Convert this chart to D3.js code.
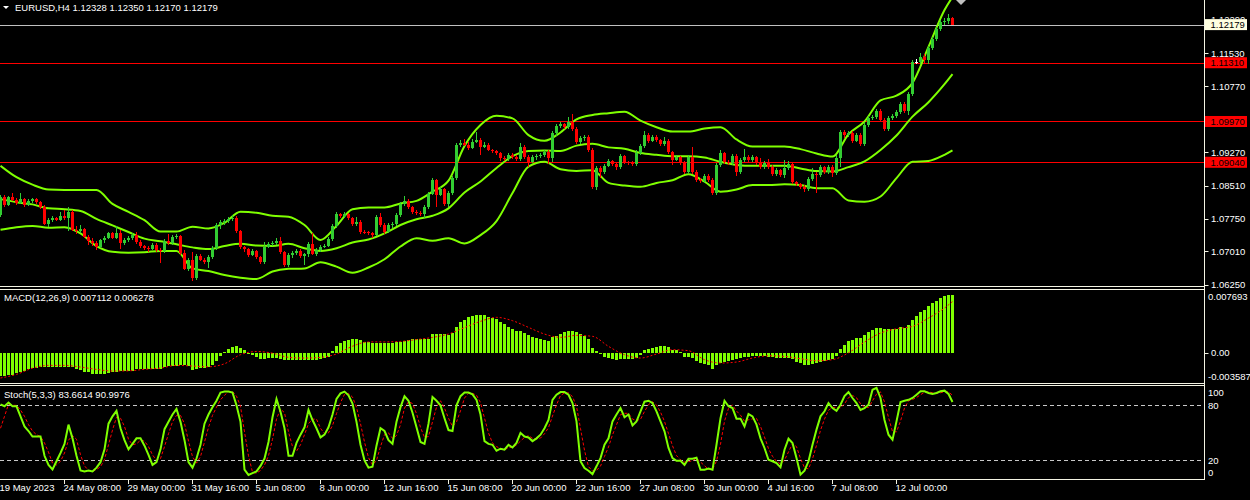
<!DOCTYPE html>
<html>
<head>
<meta charset="utf-8">
<script src="https://cdn.jsdelivr.net/npm/d3@7"></script>
<style>
body { margin: 0; background: #000; }
svg { display: block; }
text { font-family: "Liberation Sans", Arial, sans-serif; font-size: 9.5px; fill: #fff; }
</style>
</head>
<body>
<svg id="chart" width="1250" height="500"></svg>
<script>
// EURUSD H4, one value per bar (bar 0 = 19 May 2023 16:00)
var firstOpen = 1.0784;
var closes = [
 1.0825,1.0807,1.0825,1.0818,1.0811,1.0820,1.0807,1.0816,1.0820,1.0813,
 1.0803,1.0763,1.0772,1.0777,1.0772,1.0781,1.0777,1.0791,1.0750,1.0747,
 1.0752,1.0734,1.0725,1.0720,1.0711,1.0727,1.0731,1.0743,1.0731,1.0743,
 1.0720,1.0727,1.0731,1.0738,1.0722,1.0712,1.0709,1.0706,1.0715,1.0704,
 1.0702,1.0725,1.0720,1.0734,1.0736,1.0697,1.0661,1.0681,1.0640,1.0690,
 1.0681,1.0677,1.0688,1.0709,1.0761,1.0768,1.0770,1.0775,1.0777,1.0747,
 1.0711,1.0706,1.0693,1.0702,1.0688,1.0677,1.0711,1.0718,1.0720,1.0725,
 1.0699,1.0670,1.0693,1.0697,1.0702,1.0690,1.0695,1.0718,1.0695,1.0704,
 1.0711,1.0713,1.0729,1.0759,1.0786,1.0781,1.0786,1.0777,1.0763,1.0768,
 1.0745,1.0744,1.0743,1.0738,1.0779,1.0761,1.0745,1.0761,1.0763,1.0784,
 1.0809,1.0816,1.0802,1.0791,1.0788,1.0786,1.0802,1.0832,1.0864,1.0830,
 1.0843,1.0809,1.0834,1.0868,1.0943,1.0948,1.0943,1.0937,1.0950,1.0955,
 1.0939,1.0943,1.0932,1.0930,1.0925,1.0914,1.0911,1.0921,1.0916,1.0911,
 1.0939,1.0916,1.0905,1.0916,1.0918,1.0921,1.0927,1.0914,1.0971,1.0987,
 1.0991,1.0984,1.0996,1.0980,1.0950,1.0959,1.0962,1.0932,1.0848,1.0891,
 1.0882,1.0896,1.0907,1.0900,1.0893,1.0918,1.0905,1.0902,1.0900,1.0925,
 1.0941,1.0966,1.0953,1.0962,1.0955,1.0946,1.0953,1.0927,1.0909,1.0916,
 1.0902,1.0882,1.0916,1.0882,1.0864,1.0861,1.0873,1.0864,1.0834,1.0898,
 1.0925,1.0905,1.0902,1.0918,1.0882,1.0909,1.0916,1.0909,1.0916,1.0902,
 1.0893,1.0902,1.0893,1.0877,1.0886,1.0875,1.0891,1.0900,1.0859,1.0854,
 1.0848,1.0843,1.0866,1.0877,1.0875,1.0893,1.0882,1.0893,1.0880,1.0914,
 1.0973,1.0966,1.0971,1.0953,1.0966,1.0946,1.0989,1.1005,1.1007,1.1021,
 1.1000,1.0980,1.1005,1.1010,1.1019,1.1037,1.1021,1.1060,1.1133,1.1133,
 1.1144,1.1137,1.1165,1.1185,1.1208,1.1223,1.1226,1.12328,1.12179
];
var highs = [
 1.0830,1.0829,1.0828,1.0833,1.0822,1.0834,1.0823,1.0820,1.0823,1.0822,
 1.0816,1.0806,1.0776,1.0781,1.0780,1.0790,1.0795,1.0803,1.0795,1.0758,
 1.0760,1.0755,1.0738,1.0732,1.0725,1.0730,1.0735,1.0746,1.0745,1.0759,
 1.0750,1.0731,1.0736,1.0743,1.0745,1.0726,1.0716,1.0712,1.0719,1.0720,
 1.0708,1.0729,1.0740,1.0738,1.0740,1.0739,1.0703,1.0686,1.0700,1.0694,
 1.0695,1.0686,1.0692,1.0713,1.0765,1.0773,1.0775,1.0779,1.0784,1.0781,
 1.0750,1.0714,1.0709,1.0706,1.0705,1.0691,1.0722,1.0722,1.0724,1.0731,
 1.0734,1.0702,1.0697,1.0702,1.0706,1.0706,1.0698,1.0722,1.0743,1.0708,
 1.0716,1.0717,1.0733,1.0764,1.0790,1.0789,1.0790,1.0789,1.0780,1.0780,
 1.0772,1.0750,1.0748,1.0746,1.0784,1.0788,1.0765,1.0766,1.0768,1.0788,
 1.0813,1.0828,1.0820,1.0805,1.0795,1.0792,1.0806,1.0836,1.0868,1.0867,
 1.0848,1.0846,1.0838,1.0872,1.0948,1.0955,1.0958,1.0950,1.0958,1.0974,
 1.0960,1.0950,1.0947,1.0935,1.0933,1.0928,1.0918,1.0925,1.0925,1.0920,
 1.0948,1.0943,1.0920,1.0920,1.0922,1.0925,1.0933,1.0932,1.0976,1.0992,
 1.0996,1.0994,1.1008,1.1013,1.0984,1.0964,1.0966,1.0966,1.0936,1.0896,
 1.0895,1.0900,1.0912,1.0910,1.0904,1.0923,1.0921,1.0908,1.0906,1.0932,
 1.0946,1.0975,1.0970,1.0966,1.0966,1.0958,1.0961,1.0956,1.0930,1.0920,
 1.0919,1.0906,1.0921,1.0939,1.0886,1.0868,1.0878,1.0878,1.0868,1.0902,
 1.0932,1.0928,1.0910,1.0922,1.0922,1.0913,1.0935,1.0920,1.0920,1.0919,
 1.0914,1.0906,1.0912,1.0897,1.0890,1.0889,1.0909,1.0906,1.0904,1.0862,
 1.0857,1.0852,1.0870,1.0891,1.0882,1.0898,1.0896,1.0897,1.0897,1.0920,
 1.0977,1.0977,1.0975,1.0975,1.0970,1.0970,1.0994,1.1010,1.1012,1.1026,
 1.1025,1.1004,1.1009,1.1014,1.1023,1.1041,1.1041,1.1065,1.1137,1.1140,
 1.1153,1.1150,1.1169,1.1190,1.1212,1.1228,1.1233,1.1243,1.12350
];
var lows = [
 1.0780,1.0803,1.0804,1.0815,1.0806,1.0808,1.0802,1.0804,1.0812,1.0810,
 1.0798,1.0760,1.0757,1.0768,1.0769,1.0770,1.0772,1.0748,1.0747,1.0740,
 1.0742,1.0731,1.0716,1.0712,1.0703,1.0708,1.0720,1.0728,1.0728,1.0729,
 1.0706,1.0716,1.0722,1.0727,1.0718,1.0708,1.0703,1.0700,1.0703,1.0700,
 1.0674,1.0698,1.0716,1.0716,1.0730,1.0693,1.0658,1.0655,1.0634,1.0636,
 1.0678,1.0673,1.0663,1.0684,1.0705,1.0752,1.0762,1.0766,1.0770,1.0742,
 1.0706,1.0700,1.0688,1.0690,1.0684,1.0672,1.0673,1.0708,1.0713,1.0716,
 1.0695,1.0666,1.0666,1.0686,1.0693,1.0686,1.0670,1.0688,1.0692,1.0690,
 1.0700,1.0708,1.0710,1.0725,1.0755,1.0776,1.0778,1.0773,1.0759,1.0758,
 1.0741,1.0740,1.0739,1.0732,1.0735,1.0757,1.0740,1.0742,1.0755,1.0759,
 1.0780,1.0805,1.0798,1.0787,1.0784,1.0782,1.0777,1.0798,1.0829,1.0802,
 1.0826,1.0805,1.0803,1.0830,1.0864,1.0938,1.0940,1.0933,1.0934,1.0947,
 1.0920,1.0936,1.0929,1.0926,1.0920,1.0908,1.0906,1.0907,1.0911,1.0906,
 1.0908,1.0911,1.0893,1.0902,1.0910,1.0914,1.0916,1.0900,1.0905,1.0965,
 1.0982,1.0980,1.0980,1.0976,1.0945,1.0946,1.0952,1.0928,1.0843,1.0840,
 1.0868,1.0878,1.0893,1.0896,1.0887,1.0889,1.0901,1.0897,1.0896,1.0896,
 1.0921,1.0937,1.0948,1.0950,1.0951,1.0942,1.0940,1.0923,1.0898,1.0906,
 1.0897,1.0878,1.0878,1.0877,1.0858,1.0856,1.0857,1.0860,1.0830,1.0830,
 1.0893,1.0900,1.0897,1.0898,1.0873,1.0878,1.0905,1.0905,1.0905,1.0898,
 1.0889,1.0889,1.0889,1.0872,1.0872,1.0870,1.0868,1.0886,1.0855,1.0850,
 1.0843,1.0836,1.0838,1.0861,1.0833,1.0870,1.0878,1.0878,1.0870,1.0876,
 1.0894,1.0960,1.0962,1.0949,1.0950,1.0942,1.0942,1.0985,1.1000,1.1003,
 1.0996,1.0976,1.0976,1.1001,1.1006,1.1015,1.1017,1.1012,1.1056,1.1127,
 1.1129,1.1130,1.1128,1.1160,1.1180,1.1203,1.1218,1.1220,1.12170
];

// indicator lines read every 4th bar
var sampleBars = [
 0,4,8,12,16,20,24,28,32,36,40,44,48,52,56,60,64,68,72,76,
 80,84,88,92,96,100,104,108,112,116,120,124,128,132,136,140,144,148,152,156,
 160,164,168,172,176,180,184,188,192,196,200,204,208,212,216,220,224,228,232,236,238
];
var bandUpper = [
 1.0896,1.0870,1.0853,1.0842,1.0841,1.0841,1.0841,1.0809,1.0791,1.0772,
 1.0746,1.0746,1.0757,1.0753,1.0766,1.0791,1.0789,1.0782,1.0780,1.0761,
 1.0727,1.0759,1.0797,1.0801,1.0801,1.0810,1.0816,1.0837,1.0862,1.0941,
 1.0989,1.1010,1.1004,1.0966,1.0953,1.0972,1.1002,1.1012,1.1016,1.1019,
 1.0999,1.0984,1.0974,1.0974,1.0981,1.0984,1.0956,1.0940,1.0940,1.0940,
 1.0934,1.0924,1.0917,1.0968,1.0997,1.1045,1.1056,1.1085,1.1167,1.1251,
 1.1281
];
var bandMiddle = [
 1.0820,1.0813,1.0808,1.0799,1.0797,1.0793,1.0775,1.0760,1.0745,1.0730,
 1.0724,1.0717,1.0710,1.0706,1.0713,1.0718,1.0714,1.0713,1.0718,1.0708,
 1.0702,1.0708,1.0721,1.0728,1.0742,1.0761,1.0774,1.0782,1.0799,1.0835,
 1.0860,1.0891,1.0918,1.0930,1.0931,1.0930,1.0942,1.0946,1.0938,1.0935,
 1.0925,1.0921,1.0918,1.0918,1.0915,1.0905,1.0898,1.0896,1.0896,1.0896,
 1.0890,1.0884,1.0883,1.0893,1.0906,1.0932,1.0965,1.1008,1.1041,1.1082,
 1.1105
];
var bandLower = [
 1.0750,1.0756,1.0759,1.0755,1.0756,1.0742,1.0713,1.0700,1.0698,1.0699,
 1.0702,1.0702,1.0662,1.0656,1.0647,1.0641,1.0638,1.0655,1.0661,1.0662,
 1.0676,1.0666,1.0652,1.0664,1.0683,1.0712,1.0731,1.0725,1.0731,1.0719,
 1.0738,1.0770,1.0834,1.0894,1.0905,1.0888,1.0884,1.0886,1.0857,1.0851,
 1.0848,1.0857,1.0863,1.0877,1.0860,1.0837,1.0842,1.0852,1.0852,1.0854,
 1.0852,1.0845,1.0845,1.0817,1.0814,1.0826,1.0868,1.0905,1.0907,1.0921,
 1.0931
];
var macdSignal = [
 -0.00310,-0.00265,-0.00190,-0.00155,-0.00155,-0.00175,-0.00204,-0.00224,-0.00222,-0.00203,
 -0.00188,-0.00155,-0.00163,-0.00172,-0.00135,-0.00024,0.00015,-0.00005,-0.00056,-0.00065,
 -0.00057,-0.00015,0.00080,0.00133,0.00133,0.00139,0.00162,0.00188,0.00230,0.00308,
 0.00385,0.00434,0.00393,0.00311,0.00229,0.00189,0.00213,0.00201,0.00078,-0.00024,
 -0.00065,-0.00016,0.00037,0.00025,-0.00085,-0.00126,-0.00114,-0.00065,-0.00037,-0.00045,
 -0.00073,-0.00098,-0.00085,0.00000,0.00131,0.00241,0.00294,0.00323,0.00425,0.00548,
 0.00628
];

// per bar
var macdHist = [
 -0.00285,-0.00283,-0.00278,-0.00270,-0.00245,-0.00230,-0.00220,-0.00200,-0.00190,-0.00185,
 -0.00178,-0.00175,-0.00175,-0.00175,-0.00172,-0.00175,-0.00172,-0.00170,-0.00180,-0.00200,
 -0.00210,-0.00230,-0.00240,-0.00255,-0.00262,-0.00265,-0.00260,-0.00250,-0.00240,-0.00235,
 -0.00228,-0.00222,-0.00220,-0.00218,-0.00205,-0.00200,-0.00198,-0.00196,-0.00195,-0.00196,
 -0.00195,-0.00170,-0.00165,-0.00160,-0.00160,-0.00150,-0.00148,-0.00160,-0.00210,-0.00205,
 -0.00190,-0.00185,-0.00180,-0.00150,-0.00100,-0.00045,0.00010,0.00050,0.00070,0.00078,
 0.00055,0.00030,0.00002,-0.00025,-0.00053,-0.00073,-0.00073,-0.00068,-0.00070,-0.00068,
 -0.00072,-0.00085,-0.00088,-0.00085,-0.00090,-0.00089,-0.00088,-0.00085,-0.00086,-0.00084,
 -0.00080,-0.00070,-0.00055,0.00025,0.00078,0.00119,0.00150,0.00162,0.00165,0.00165,
 0.00160,0.00135,0.00128,0.00125,0.00125,0.00125,0.00125,0.00122,0.00115,0.00131,
 0.00133,0.00150,0.00160,0.00165,0.00168,0.00168,0.00165,0.00170,0.00225,0.00233,
 0.00233,0.00230,0.00215,0.00237,0.00315,0.00373,0.00405,0.00434,0.00454,0.00466,
 0.00466,0.00460,0.00434,0.00421,0.00409,0.00376,0.00352,0.00311,0.00294,0.00270,
 0.00270,0.00241,0.00213,0.00189,0.00181,0.00168,0.00160,0.00147,0.00189,0.00201,
 0.00229,0.00254,0.00270,0.00270,0.00250,0.00225,0.00205,0.00164,0.00058,0.00020,
 -0.00008,-0.00057,-0.00065,-0.00077,-0.00085,-0.00073,-0.00077,-0.00073,-0.00073,-0.00065,
 -0.00033,0.00029,0.00049,0.00060,0.00070,0.00078,0.00078,0.00066,0.00037,0.00033,
 0.00010,-0.00053,-0.00053,-0.00065,-0.00106,-0.00126,-0.00139,-0.00155,-0.00196,-0.00155,
 -0.00126,-0.00114,-0.00098,-0.00085,-0.00073,-0.00069,-0.00057,-0.00049,-0.00037,-0.00037,
 -0.00041,-0.00041,-0.00049,-0.00057,-0.00061,-0.00061,-0.00069,-0.00069,-0.00082,-0.00114,
 -0.00126,-0.00147,-0.00147,-0.00139,-0.00126,-0.00114,-0.00098,-0.00085,-0.00077,-0.00037,
 0.00049,0.00098,0.00139,0.00160,0.00181,0.00181,0.00221,0.00250,0.00274,0.00303,
 0.00303,0.00290,0.00290,0.00290,0.00294,0.00311,0.00303,0.00344,0.00405,0.00454,
 0.00495,0.00527,0.00569,0.00609,0.00638,0.00671,0.00699,0.00711,0.00711
];
var stochMain = [
 81,79,83,79,79,68,57,52,46,46,
 46,25,15,10,19,28,38,59,44,25,
 9,8,9,8,12,18,32,60,68,74,
 55,42,32,38,44,44,36,26,15,18,
 32,54,62,70,76,62,42,18,12,22,
 37,60,70,78,85,94,95,95,94,80,
 62,10,4,6,8,14,22,40,67,87,
 73,55,25,25,39,48,56,75,64,55,
 45,48,56,70,87,93,95,91,82,62,
 37,20,12,13,36,55,52,42,38,62,
 78,90,85,72,56,40,38,60,89,85,
 80,66,53,52,80,90,94,94,92,86,
 70,41,38,37,30.5,32.7,31.6,37,34,39,
 50,46,45,41,44,48,55,64,86,91.6,
 94.5,94.5,91.6,82.5,62.5,19,11.6,8.7,5,13.5,
 22.5,37,44,62.5,70,77,67,70,58,62.5,
 73.5,84,85,82.5,73.5,62.5,51.6,33.5,22.5,19.6,
 19.6,15,21.8,21.8,23,9.8,9.8,11,9.8,37,
 66,85,79,77,65.5,65.5,57,70.5,68,59,
 44,33.5,20.7,19,17,12.4,31.6,43.6,39,22.5,
 4.4,8.7,19,37,53.5,68,73.5,82.5,77,74,
 80.7,90,94.5,88,82.5,75,77,80.7,97,99,
 88,64,48,42.5,62.5,83.6,85,86,88,91.6,
 95.3,95.3,93.5,92.4,93.5,95.3,96,92.4,83.66
];
var stochSignal = [
 55,68,81,80,80,75,68,59,52,48,
 46,39,29,17,15,19,28,42,47,43,
 26,14,9,8,10,13,21,37,53,67,
 66,57,43,37,38,42,41,35,26,20,
 22,35,49,62,69,69,60,41,24,17,
 24,40,56,69,78,86,91,95,95,90,
 79,51,25,7,6,9,15,25,43,65,
 76,72,51,35,30,37,48,60,65,65,
 55,49,50,58,71,83,92,93,89,78,
 60,40,23,15,20,35,48,50,44,47,
 59,77,84,82,71,56,45,46,62,78,
 85,77,66,57,62,74,88,93,93,91,
 83,66,50,39,35,33,31.6,33.8,34.2,36.7,
 41,45,47,44,43.3,44.3,49,55.7,68.3,80.5,
 90.7,93.5,93.5,89.5,78.9,54.7,31,13.1,8.4,9.1,
 13.7,24.3,34.5,47.8,58.8,69.8,71.3,71.3,65,63.5,
 64.7,73.3,80.8,83.8,80.3,72.8,62.5,49.2,35.9,25.2,
 20.6,18.1,18.8,19.5,22.2,18.2,14.2,10.2,10.2,19.3,
 37.6,62.7,76.7,80.3,73.8,69.3,62.7,64.3,65.2,65.8,
 57,45.5,32.7,24.4,18.9,16.1,20.3,29.2,38.1,35,
 22,11.9,10.7,21.6,36.5,52.8,65,74.7,77.7,77.8,
 77.2,81.6,88.4,90.8,88.3,81.8,78.2,77.6,84.9,92.2,
 94.7,83.7,66.7,51.5,51,62.9,77,84.9,86.3,88.5,
 91.6,94.1,94.7,93.7,93.1,93.7,94.9,94.6,91.0
];

var priceTicks = [1.12290, 1.11530, 1.10770, 1.09270, 1.08510, 1.07750, 1.07010, 1.06250];
var levelLines = [1.11310, 1.09970, 1.09040];
var lastPrice = 1.12179;
var macdRange = [-0.003587, 0.007693];
var stochLevels = [80, 20];
var timeTickBars = [0,16,32,48,64,80,96,112,128,144,160,176,192,208,224];
var timeTickLabels = ["19 May 2023","24 May 08:00","29 May 00:00","31 May 16:00","5 Jun 08:00",
  "8 Jun 00:00","12 Jun 16:00","15 Jun 08:00","20 Jun 00:00","22 Jun 16:00",
  "27 Jun 08:00","30 Jun 00:00","4 Jul 16:00","7 Jul 08:00","12 Jul 00:00"];

var W = 1250, H = 500, plotR = 1204;
var lime = "#7fff00", bull = "#32cd32", bear = "#ff0000", frame = "#f4f4e4";

var svg = d3.select("#chart");
svg.append("rect").attr("width", W).attr("height", H).attr("fill", "#000");

var x = d3.scaleLinear().domain([0, 1]).range([0.5, 4.5]);
var y = d3.scaleLinear().domain([1.0625, 1.1229]).range([284.65, 19.74]);
var yM = d3.scaleLinear().domain(macdRange).range([382, 290]);
var yS = d3.scaleLinear().domain([0, 100]).range([478.7, 387]);

var defs = svg.append("defs");
function clip(id, top, h) {
  defs.append("clipPath").attr("id", id).append("rect")
    .attr("x", 0).attr("y", top).attr("width", plotR).attr("height", h);
}
clip("cMain", 0, 286);
clip("cMacd", 289.5, 93);
clip("cStoch", 386, 93);

// ---------- main window ----------
var main = svg.append("g").attr("clip-path", "url(#cMain)");

main.selectAll(".lvl").data(levelLines).enter().append("line")
  .attr("x1", 0).attr("x2", plotR)
  .attr("y1", function(d) { return Math.round(y(d)) + 0.5; })
  .attr("y2", function(d) { return Math.round(y(d)) + 0.5; })
  .attr("stroke", "#ff0000").attr("stroke-width", 1);

main.append("line")
  .attr("x1", 0).attr("x2", plotR)
  .attr("y1", Math.round(y(lastPrice)) + 0.5).attr("y2", Math.round(y(lastPrice)) + 0.5)
  .attr("stroke", "#c0c0c0").attr("stroke-width", 1);

var bandLine = function(vals) {
  return d3.line()
    .x(function(d, i) { return x(sampleBars[i]); })
    .y(function(d) { return y(d); })
    .curve(d3.curveMonotoneX)(vals);
};
[bandUpper, bandMiddle, bandLower].forEach(function(b) {
  main.append("path").attr("d", bandLine(b))
    .attr("fill", "none").attr("stroke", lime).attr("stroke-width", 2);
});

var candles = closes.map(function(c, i) {
  return { i: i, o: i === 0 ? firstOpen : closes[i - 1], h: highs[i], l: lows[i], c: c };
});
function candleColor(d) { return d.c > d.o ? bull : (d.c < d.o ? bear : "#ffffff"); }

var cg = main.selectAll(".candle").data(candles).enter().append("g").attr("shape-rendering", "crispEdges");
cg.append("line")
  .attr("x1", function(d) { return x(d.i); }).attr("x2", function(d) { return x(d.i); })
  .attr("y1", function(d) { return y(d.h); }).attr("y2", function(d) { return y(d.l); })
  .attr("stroke", candleColor).attr("stroke-width", 1);
cg.append("rect")
  .attr("x", function(d) { return x(d.i) - 1.5; })
  .attr("width", 3)
  .attr("y", function(d) { return y(Math.max(d.o, d.c)); })
  .attr("height", function(d) { return Math.max(1, Math.abs(y(d.o) - y(d.c))); })
  .attr("fill", candleColor);

// ---------- MACD window ----------
var macd = svg.append("g").attr("clip-path", "url(#cMacd)");
macd.selectAll("rect").data(macdHist).enter().append("rect")
  .attr("shape-rendering", "crispEdges")
  .attr("x", function(d, i) { return x(i) - 1.5; })
  .attr("width", 3)
  .attr("y", function(d) { return yM(Math.max(d, 0)); })
  .attr("height", function(d) { return Math.max(1, Math.abs(yM(d) - yM(0))); })
  .attr("fill", lime);
macd.append("path")
  .attr("d", d3.line().x(function(d, i) { return x(sampleBars[i]); }).y(function(d) { return yM(d); })
    .curve(d3.curveMonotoneX)(macdSignal))
  .attr("fill", "none").attr("stroke", "#ff0000").attr("stroke-width", 1).attr("stroke-dasharray", "2,2");

// ---------- Stochastic window ----------
var sto = svg.append("g").attr("clip-path", "url(#cStoch)");
sto.selectAll(".slvl").data(stochLevels).enter().append("line")
  .attr("x1", 0).attr("x2", plotR)
  .attr("y1", function(d) { return Math.round(yS(d)) + 0.5; })
  .attr("y2", function(d) { return Math.round(yS(d)) + 0.5; })
  .attr("stroke", "#c8c8c8").attr("stroke-dasharray", "4,3");
var stoLine = d3.line().x(function(d, i) { return x(i); }).y(function(d) { return yS(d); });
sto.append("path").attr("d", stoLine(stochSignal))
  .attr("fill", "none").attr("stroke", "#ff0000").attr("stroke-width", 1).attr("stroke-dasharray", "3,2");
sto.append("path").attr("d", stoLine(stochMain))
  .attr("fill", "none").attr("stroke", lime).attr("stroke-width", 2);

// ---------- frames ----------
var fr = svg.append("g").attr("stroke", frame).attr("stroke-width", 1).attr("shape-rendering", "crispEdges");
[286.5, 289.5, 383.5, 385.5, 479.5].forEach(function(yy) {
  fr.append("line").attr("x1", 0).attr("x2", plotR + 0.5).attr("y1", yy).attr("y2", yy);
});
fr.append("line").attr("x1", plotR + 0.5).attr("x2", plotR + 0.5).attr("y1", 0).attr("y2", 479.5);

// price axis; the top label is partly hidden behind the last-price box, as in the terminal
defs.append("clipPath").attr("id", "cTopLabel").append("rect")
  .attr("x", 1205).attr("y", 0).attr("width", 45).attr("height", Math.floor(y(lastPrice) - 5.5));
var axG = svg.append("g");
axG.selectAll(".pt").data(priceTicks).enter().append("line")
  .attr("x1", plotR + 0.5).attr("x2", plotR + 4.5)
  .attr("y1", function(d) { return Math.round(y(d)) + 0.5; })
  .attr("y2", function(d) { return Math.round(y(d)) + 0.5; })
  .attr("stroke", frame);
axG.selectAll(".ptl").data(priceTicks).enter().append("text")
  .attr("x", 1211).attr("y", function(d) { return y(d) + 3.5; })
  .attr("clip-path", function(d, i) { return i === 0 ? "url(#cTopLabel)" : null; })
  .text(function(d) { return d.toFixed(5); });

function priceBox(v, bg) {
  var yy = y(v);
  axG.append("rect").attr("x", 1205).attr("y", yy - 5.5).attr("width", 42).attr("height", 11).attr("fill", bg);
  axG.append("text").attr("x", 1210.5).attr("y", yy + 3.5).style("fill", "#000").text(v.toFixed(5));
}
levelLines.forEach(function(v) { priceBox(v, "#ff0000"); });
priceBox(lastPrice, "#ffffe0");

// MACD axis
axG.append("line").attr("x1", plotR + 0.5).attr("x2", plotR + 4.5)
  .attr("y1", Math.round(yM(0)) + 0.5).attr("y2", Math.round(yM(0)) + 0.5).attr("stroke", frame);
axG.append("text").attr("x", 1208).attr("y", yM(macdRange[1]) + 10).text(macdRange[1].toFixed(6));
axG.append("text").attr("x", 1211).attr("y", yM(0) + 3.5).text("0.00");
axG.append("text").attr("x", 1208).attr("y", yM(macdRange[0]) - 2).text(macdRange[0].toFixed(6));

// Stoch axis
axG.append("text").attr("x", 1208).attr("y", yS(100) + 9).text("100");
stochLevels.forEach(function(v) {
  axG.append("text").attr("x", 1208).attr("y", yS(v) + 3.5).text(String(v));
});
axG.append("text").attr("x", 1208).attr("y", yS(0) - 2.7).text("0");

// time axis
var tg = svg.append("g");
tg.selectAll("line").data(timeTickBars.slice(1)).enter().append("line")
  .attr("x1", function(d) { return x(d); }).attr("x2", function(d) { return x(d); })
  .attr("y1", 479.5).attr("y2", 484).attr("stroke", frame);
tg.selectAll("text").data(timeTickBars).enter().append("text")
  .attr("x", function(d) { return x(d) - 1; }).attr("y", 491)
  .text(function(d, i) { return timeTickLabels[i]; });

// labels
svg.append("path").attr("d", "M3,6 L9,6 L6,9 Z").attr("fill", "#fff");
svg.append("text").attr("x", 15).attr("y", 10.5).text("EURUSD,H4  1.12328 1.12350 1.12170 1.12179");
svg.append("text").attr("x", 4).attr("y", 301).text("MACD(12,26,9) 0.007112 0.006278");
svg.append("text").attr("x", 4).attr("y", 398).text("Stoch(5,3,3) 83.6614 90.9976");
svg.append("path").attr("d", "M956,0 L966,0 L961,5 Z").attr("fill", "#c0c0c0");
</script>
</body>
</html>
